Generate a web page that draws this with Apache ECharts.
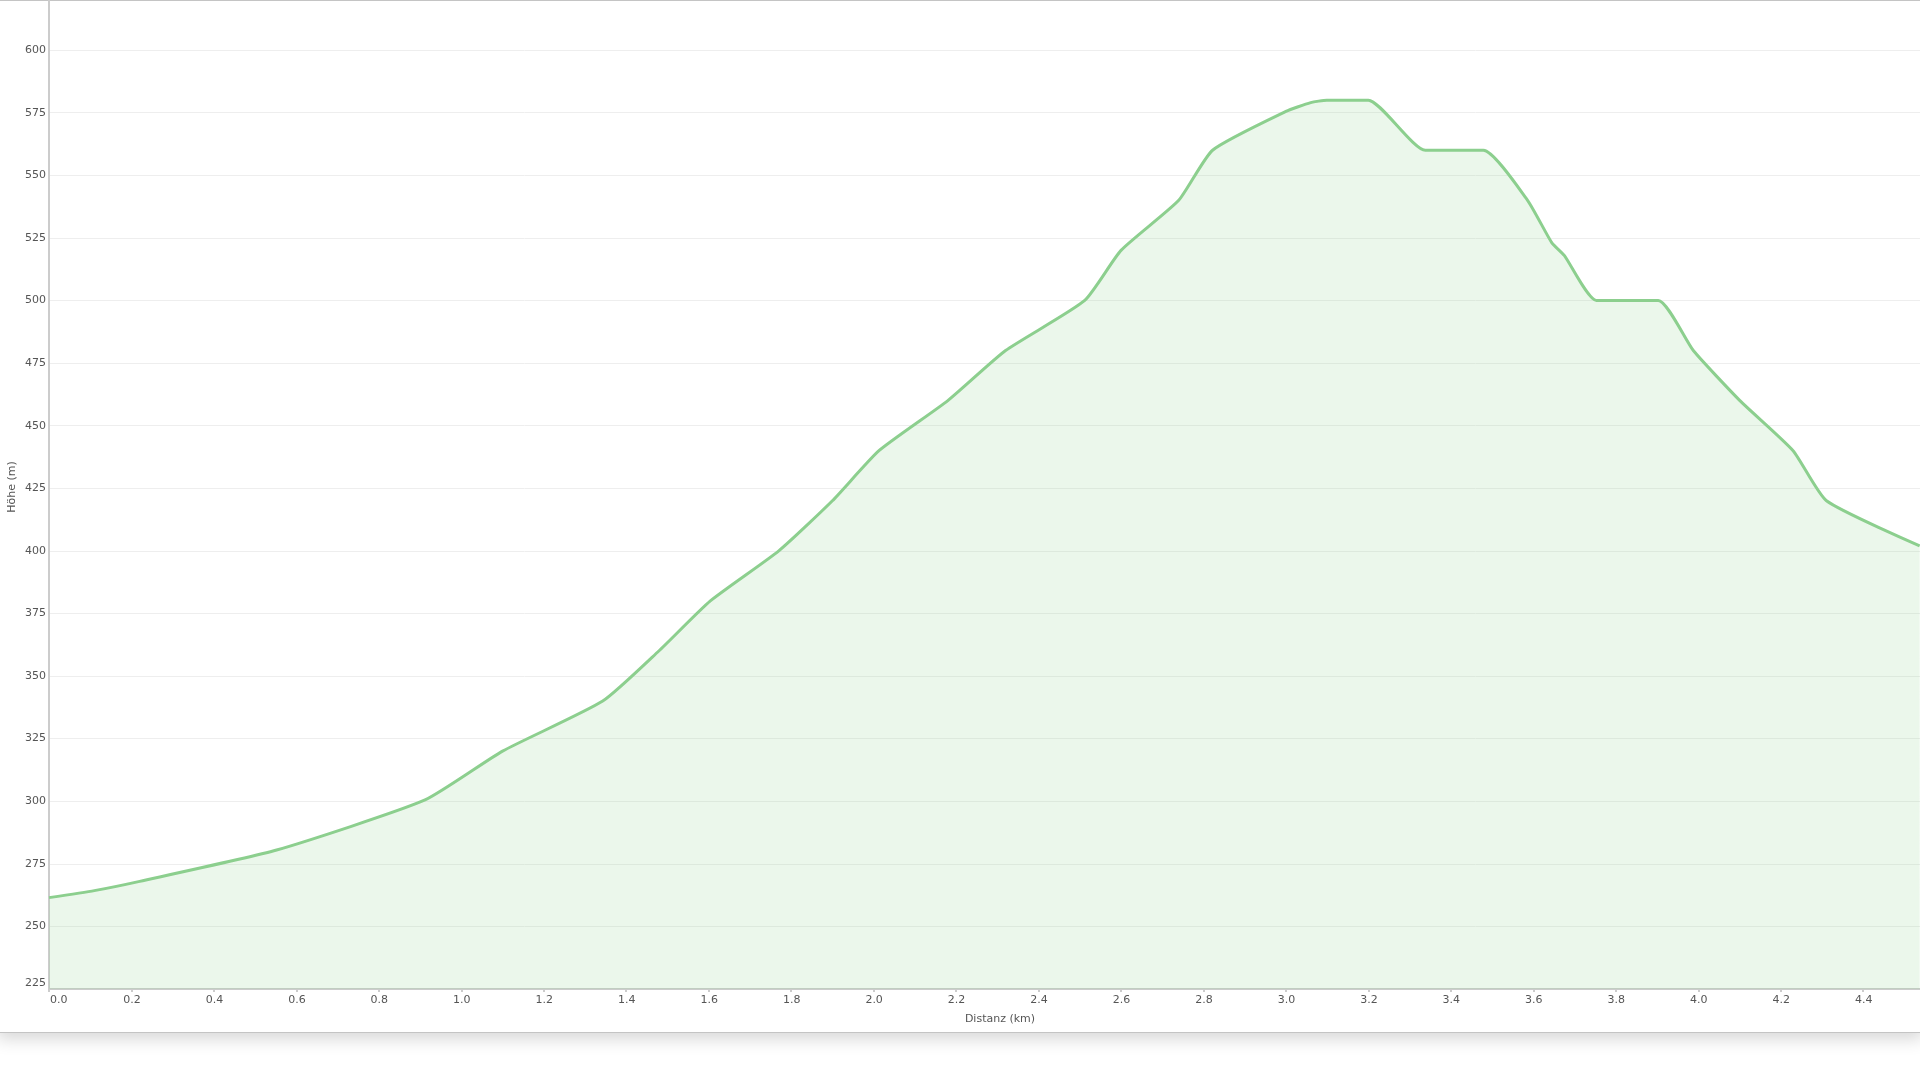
<!DOCTYPE html>
<html>
<head>
<meta charset="utf-8">
<script src="https://cdn.jsdelivr.net/npm/echarts@6/dist/echarts.min.js"></script>
<style>
  html, body { margin: 0; padding: 0; background: #ffffff; width: 1920px; height: 1080px; overflow: hidden; }
  #card { position: absolute; left: -3px; top: 0; width: 1926px; height: 1033px; box-sizing: border-box;
          border: 1px solid #c4c4c4; background: #ffffff; box-shadow: 0 6px 16px rgba(0,0,0,0.16); }
  #chart { position: absolute; left: 0; top: -15px; width: 1951px; height: 1095px; }
</style>
</head>
<body>
<div id="card"></div>
<div id="chart"></div>
<script>
// Distance along route (km)
const distanceKm = [0, 0.11, 0.22, 0.552, 0.912, 1.10, 1.343, 1.479, 1.604, 1.77, 1.90, 2.013, 2.18, 2.32, 2.512, 2.60, 2.74, 2.822, 3.0, 3.06, 3.099, 3.20, 3.338, 3.479, 3.586, 3.645, 3.675, 3.753, 3.903, 3.988, 4.101, 4.23, 4.311, 4.537];
// Elevation (m)
const elevationM = [261.5, 264.3, 268, 280.5, 300.5, 320, 340, 360, 380, 400, 420, 440, 460, 480, 500, 520, 540, 560, 575.5, 579, 580, 580, 560, 560, 540, 523, 518, 500, 500, 480, 460, 440, 420, 402];

const xAxisName = 'Distanz (km)';
const yAxisName = 'Höhe (m)';

const points = distanceKm.map((d, i) => [d, elevationM[i]]);

const chart = echarts.init(document.getElementById('chart'), null, { renderer: 'canvas' });
const font = 'DejaVu Sans';
chart.setOption({
  backgroundColor: 'transparent',
  animation: false,
  grid: { left: 49, right: 0, top: 0, bottom: 91, containLabel: false, outerBoundsMode: 'none' },
  xAxis: {
    type: 'value',
    min: 0,
    max: 4.613,
    interval: 0.2,
    name: xAxisName,
    nameLocation: 'middle',
    nameGap: 25,
    nameMoveOverlap: false,
    nameTextStyle: { fontFamily: font, fontSize: 11, color: '#555' },
    axisLine: { show: true, lineStyle: { color: '#cccccc', width: 2 } },
    axisTick: { show: true, length: 3, lineStyle: { color: '#cccccc', width: 2 } },
    axisLabel: {
      fontFamily: font, fontSize: 11, color: '#555', margin: 6,
      showMaxLabel: false, alignMinLabel: 'left', padding: [0, 0, 0, 1],
      formatter: v => v.toFixed(1)
    },
    splitLine: { show: false }
  },
  yAxis: {
    type: 'value',
    min: 225,
    max: 626,
    interval: 25,
    name: yAxisName,
    nameLocation: 'middle',
    nameGap: 31,
    nameMoveOverlap: false,
    nameTextStyle: { fontFamily: font, fontSize: 11, color: '#555' },
    axisLine: { show: true, lineStyle: { color: '#cccccc', width: 2 } },
    axisTick: { show: false },
    axisLabel: {
      fontFamily: font, fontSize: 11, color: '#555', margin: 3,
      showMaxLabel: false, verticalAlignMinLabel: 'bottom'
    },
    splitLine: { show: true, lineStyle: { color: '#eeeeee', width: 1 } }
  },
  series: [{
    type: 'line',
    data: points,
    smooth: 0.18,
    symbol: 'none',
    lineStyle: { color: '#8ccf8e', width: 3 },
    areaStyle: { color: 'rgba(140,207,142,0.25)' },
    itemStyle: { color: '#8ccf8e' }
  }]
});
</script>
</body>
</html>
